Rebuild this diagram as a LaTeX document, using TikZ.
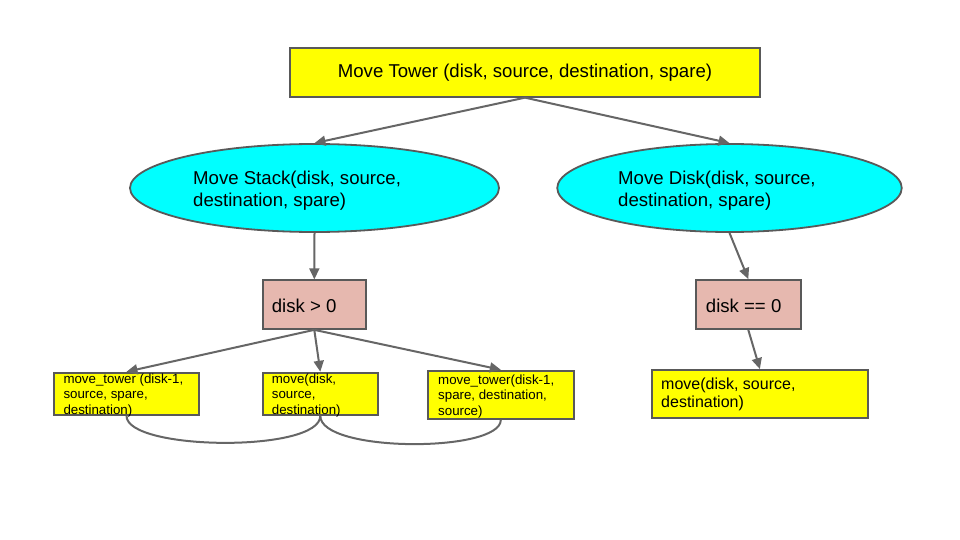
\documentclass[tikz,border=0pt]{standalone}
\usepackage{fontspec}
\setmainfont{Liberation Sans}
\usetikzlibrary{shapes.geometric,arrows.meta}
\definecolor{boxyellow}{HTML}{FFFF00}
\definecolor{ellcyan}{HTML}{00FFFF}
\definecolor{condpink}{HTML}{E6B8AF}
\definecolor{bordergray}{HTML}{595959}
\definecolor{arrowgray}{HTML}{666666}
\tikzset{
  boxbase/.style={draw=bordergray, line width=1.8pt, rectangle, inner sep=0pt},
  yelbox/.style={boxbase, fill=boxyellow},
  condbox/.style={boxbase, fill=condpink},
  ellnode/.style={draw=bordergray, line width=1.8pt, ellipse, fill=ellcyan, inner sep=0pt},
  conn/.style={draw=arrowgray, line width=2pt, -{Triangle[length=11pt,width=10pt]}},
  link/.style={draw=arrowgray, line width=2pt},
  bigtxt/.style={font=\fontsize{18.6}{21.5}\selectfont, inner sep=0pt, align=left, anchor=base west},
  smalltxt/.style={font=\fontsize{13.3}{15.5}\selectfont, inner sep=0pt, align=left, anchor=base west},
  midtxt/.style={font=\fontsize{16}{18.5}\selectfont, inner sep=0pt, align=left, anchor=base west}
}
\begin{document}
\begin{tikzpicture}[x=1pt,y=-1pt]
\useasboundingbox (0,0) rectangle (960,540);
% nodes
\node[yelbox, minimum width=470pt, minimum height=48.5pt, font=\fontsize{18.6}{21.5}\selectfont] (top) at (525,72.5) {Move Tower (disk, source, destination, spare)};
\node[ellnode, minimum width=369pt, minimum height=88pt] (ls) at (314.5,188) {};
\node[ellnode, minimum width=344.5pt, minimum height=88pt] (rs) at (729.5,188) {};
\node[condbox, minimum width=103.3pt, minimum height=48.7pt] (c1) at (314.3,304.6) {};
\node[condbox, minimum width=104.7pt, minimum height=49pt] (c2) at (748.3,304.5) {};
\node[yelbox, minimum width=144.7pt, minimum height=42.3pt] (b1) at (126.5,393.8) {};
\node[yelbox, minimum width=115.3pt, minimum height=42.3pt] (b2) at (320.3,393.8) {};
\node[yelbox, minimum width=145.7pt, minimum height=48.3pt] (b3) at (500.8,394.8) {};
\node[yelbox, minimum width=216.3pt, minimum height=48pt] (b4) at (759.9,394) {};
% texts (anchored at the baseline of the last line)
\node[bigtxt] (lst) at (193,206.5) {Move Stack(disk, source,\\destination, spare)};
\node[bigtxt] (rst) at (618,206.5) {Move Disk(disk, source,\\destination, spare)};
\node[bigtxt] (c1t) at (271.7,312) {disk {>} 0};
\node[bigtxt] (c2t) at (705.7,312) {disk == 0};
\node[smalltxt] (b1t) at (63.3,414) {move\_tower (disk-1,\\source, spare,\\destination)};
\node[smalltxt] (b2t) at (271.7,414) {move(disk,\\source,\\destination)};
\node[smalltxt] (b3t) at (438,415) {move\_tower(disk-1,\\spare, destination,\\source)};
\node[midtxt] (b4t) at (661,407.5) {move(disk, source,\\destination)};
% connectors
\draw[conn] (top.south) -- (ls.north);
\draw[conn] (top.south) -- (rs.north);
\draw[conn] (ls.south) -- (c1.north);
\draw[conn] (rs.south) -- (c2.north);
\draw[conn] (c1.south) -- (b1.north);
\draw[conn] (c1.south) -- (b2.north);
\draw[conn] (c1.south) -- (b3.north);
\draw[conn] (c2.south) -- (b4.north);
\draw[link] (b1.south) .. controls +(0,35) and +(0,37) .. (b2.south);
\draw[link] (b2.south) .. controls +(0,37) and +(0,33) .. (b3.south);
\end{tikzpicture}
\end{document}
